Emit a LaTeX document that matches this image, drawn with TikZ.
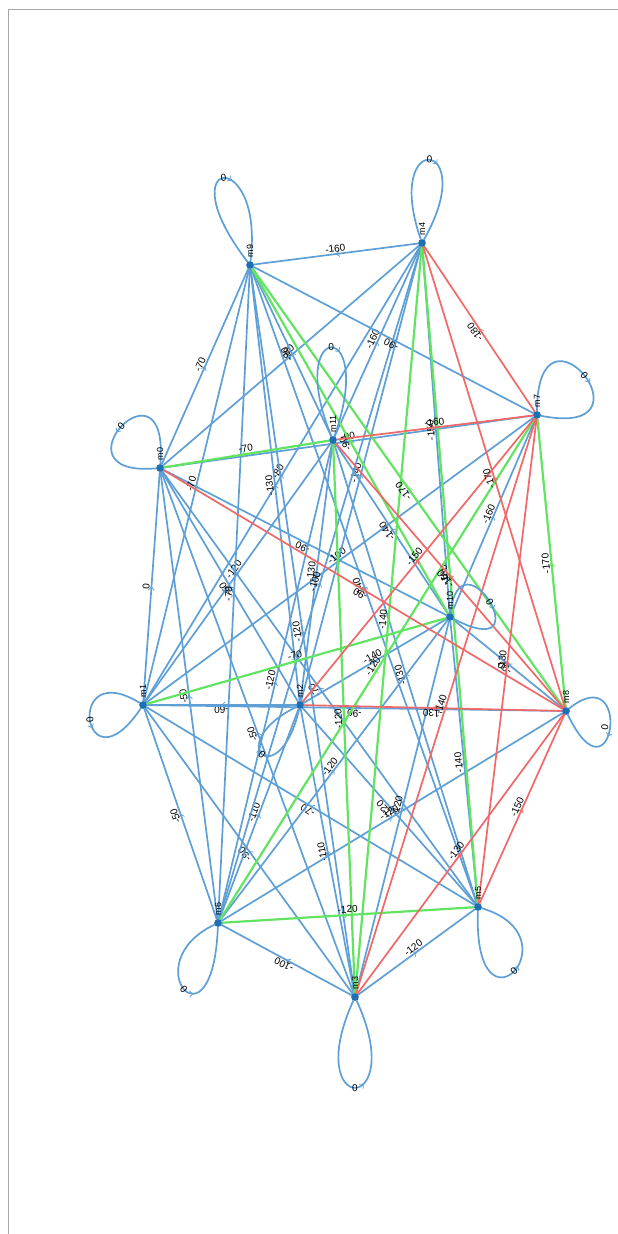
\documentclass[tikz,border=0pt]{standalone}
\usepackage{fontspec}
\setmainfont{Liberation Sans}
\usetikzlibrary{arrows.meta,decorations.markings}
\definecolor{dotblue}{HTML}{1F6FB4}
\definecolor{eblue}{HTML}{5E9FD6}
\definecolor{egreen}{HTML}{62E462}
\definecolor{ered}{HTML}{F06868}
\definecolor{framegray}{HTML}{A8A8A8}
\newcommand{\edgeX}[4]{\draw[#1,midarr=0.5] (#2) -- node[el]{#4} (#3);}
\begin{document}
\begin{tikzpicture}[x=1pt,y=-1pt,
  dot/.style={circle,fill=dotblue,inner sep=0pt,minimum size=7pt},
  nlab/.style={font=\fontsize{9}{9}\selectfont,rotate=90,anchor=west,inner sep=1pt},
  eb/.style={draw=eblue,line width=1.7pt},
  eg/.style={draw=egreen,line width=2.2pt},
  er/.style={draw=ered,line width=1.7pt},
  midarr/.style={postaction={decorate},decoration={markings,mark=at position #1 with {\arrow{Straight Barb[length=3pt,width=6pt,line width=0.8pt]}}}},
  midrev/.style={postaction={decorate},decoration={markings,mark=at position #1 with {\arrowreversed{Straight Barb[length=3pt,width=6pt,line width=0.8pt]}}}},
  el/.style={font=\fontsize{10}{10}\selectfont,sloped,allow upside down,above,inner sep=1pt,pos=0.5},
  ll/.style={font=\fontsize{10}{10}\selectfont,sloped,inner sep=1pt,pos=0.5}]
\useasboundingbox (0,0) rectangle (618,1234);
\draw[framegray,line width=1pt] (8.5,1240) -- (8.5,9.5) -- (640,9.5);
% nodes
\node[dot] (m0) at (160,468) {};
\node[dot] (m1) at (143,705) {};
\node[dot] (m2) at (300,705) {};
\node[dot] (m3) at (355,997) {};
\node[dot] (m4) at (422,243) {};
\node[dot] (m5) at (478,907) {};
\node[dot] (m6) at (218,923) {};
\node[dot] (m7) at (537,415) {};
\node[dot] (m8) at (566,711) {};
\node[dot] (m9) at (250,265) {};
\node[dot] (m10) at (450,617) {};
\node[dot] (m11) at (333,440) {};
% blue edges
\edgeX{eb}{m1}{m0}{0}
\edgeX{eb}{m2}{m0}{-60}
\edgeX{eb}{m3}{m0}{-50}
\edgeX{eb}{m0}{m4}{-80}
\edgeX{eb}{m5}{m0}{-70}
\edgeX{eb}{m6}{m0}{-50}
\edgeX{eb}{m0}{m7}{-90}
\edgeX{eb}{m0}{m9}{-70}
\edgeX{eb}{m10}{m0}{-90}
\edgeX{eb}{m2}{m1}{-60}
\edgeX{eb}{m3}{m1}{-90}
\edgeX{eb}{m1}{m4}{-80}
\edgeX{eb}{m5}{m1}{-70}
\edgeX{eb}{m6}{m1}{-50}
\edgeX{eb}{m1}{m7}{-100}
\edgeX{eb}{m8}{m1}{-90}
\edgeX{eb}{m1}{m9}{-70}
\edgeX{eb}{m1}{m11}{-120}
\edgeX{eb}{m3}{m2}{-110}
\edgeX{eb}{m2}{m4}{-140}
\edgeX{eb}{m5}{m2}{-120}
\edgeX{eb}{m6}{m2}{-110}
\edgeX{eb}{m2}{m9}{-130}
\edgeX{eb}{m2}{m10}{-140}
\edgeX{eb}{m2}{m11}{-130}
\edgeX{eb}{m3}{m5}{-120}
\edgeX{eb}{m3}{m6}{-100}
\edgeX{eb}{m3}{m9}{-120}
\edgeX{eb}{m3}{m10}{-120}
\edgeX{eb}{m6}{m4}{-100}
\draw[eb,midrev=0.5] (m9) -- node[el]{-160} (m4);
\edgeX{eb}{m10}{m4}{-150}
\edgeX{eb}{m11}{m4}{-160}
\edgeX{eb}{m5}{m9}{-140}
\edgeX{eb}{m5}{m10}{-140}
\edgeX{eb}{m5}{m11}{-130}
\edgeX{eb}{m6}{m8}{-120}
\edgeX{eb}{m6}{m9}{-70}
\edgeX{eb}{m6}{m10}{-120}
\edgeX{eb}{m6}{m11}{-120}
\edgeX{eb}{m7}{m9}{-90}
\edgeX{eb}{m10}{m7}{-160}
\edgeX{eb}{m8}{m10}{-90}
\edgeX{eb}{m11}{m9}{-90}
\edgeX{eb}{m10}{m11}{-140}
% green edges
\edgeX{eg}{m0}{m11}{-70}
\edgeX{eg}{m1}{m10}{-70}
\edgeX{eg}{m3}{m4}{-140}
\edgeX{eg}{m3}{m11}{-120}
\edgeX{eg}{m5}{m4}{-180}
\edgeX{eg}{m6}{m5}{-120}
\edgeX{eg}{m6}{m7}{-120}
\edgeX{eg}{m8}{m7}{-170}
\edgeX{eg}{m8}{m9}{-170}
\edgeX{eg}{m10}{m9}{-90}
% red edges
\edgeX{er}{m8}{m0}{-90}
\edgeX{er}{m2}{m7}{-150}
\edgeX{er}{m8}{m2}{-130}
\edgeX{er}{m3}{m7}{-140}
\edgeX{er}{m3}{m8}{-130}
\edgeX{er}{m7}{m4}{-180}
\edgeX{er}{m8}{m4}{-170}
\edgeX{er}{m5}{m7}{-130}
\edgeX{er}{m5}{m8}{-150}
\edgeX{er}{m11}{m7}{-160}
\edgeX{er}{m8}{m11}{-160}
% loops
\draw[eb,midarr=0.55] (m9) .. controls +(-85,-110) and +(15,-120) .. node[ll]{0} (m9);
\draw[eb,midarr=0.55] (m4) .. controls +(-40,-115) and +(60,-105) .. node[ll]{0} (m4);
\draw[eb,midarr=0.55] (m7) .. controls +(0,-130) and +(125,25) .. node[ll]{0} (m7);
\draw[eb,midarr=0.55] (m0) .. controls +(10,-120) and +(-112,10) .. node[ll]{0} (m0);
\draw[eb,midarr=0.55] (m11) .. controls +(-50,-120) and +(45,-125) .. node[ll]{0} (m11);
\draw[eb,midarr=0.55] (m10) .. controls +(10,-90) and +(95,50) .. node[ll]{0} (m10);
\draw[eb,midarr=0.55] (m1) .. controls +(-80,-50) and +(-60,90) .. node[ll]{0} (m1);
\draw[eb,midarr=0.55] (m2) .. controls +(-20,90) and +(-80,40) .. node[ll]{0} (m2);
\draw[eb,midarr=0.55] (m8) .. controls +(68,-55) and +(48,100) .. node[ll,anchor=south]{0} (m8);
\draw[eb,midarr=0.55] (m6) .. controls +(-85,40) and +(-5,135) .. node[ll]{0} (m6);
\draw[eb,midarr=0.55] (m5) .. controls +(-5,140) and +(100,30) .. node[ll]{0} (m5);
\draw[eb,midarr=0.55] (m3) .. controls +(-55,120) and +(55,120) .. node[ll]{0} (m3);
% redraw dots on top
\foreach \n in {m0,m1,m2,m3,m4,m5,m6,m7,m8,m9,m10,m11}{\fill[dotblue] (\n) circle (3.8pt);}
% node labels
\foreach \n in {m0,m1,m2,m3,m4,m5,m6,m7,m8,m9,m10,m11}{\node[nlab] at ([yshift=3pt]\n.north) {\n};}
\end{tikzpicture}
\end{document}
